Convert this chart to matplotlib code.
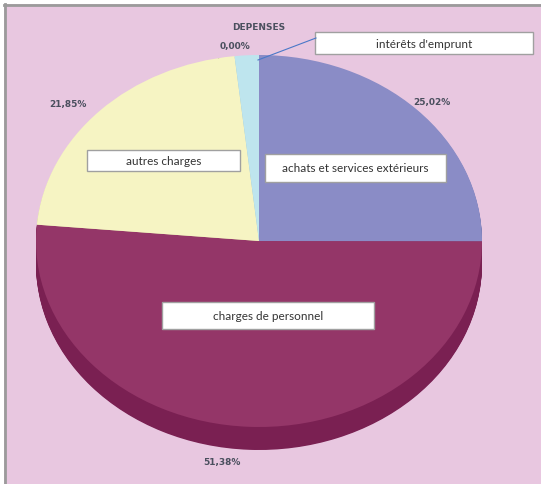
import numpy as np
import matplotlib.pyplot as plt
from matplotlib.patches import Rectangle

# data
categories = ["achats et services extérieurs", "charges de personnel", "autres charges", "", "intérêts d'emprunt"]
values = [25.02, 51.38, 21.85, 1.75, 0.00]
title = "DEPENSES"

top_colors = ['#8A8CC6', '#943668', '#F6F4C3', '#BEE5EE', '#7FA0D8']
side_colors = ['#6D6FA6', '#7A2052', '#CFCC9C', '#9CC4CC', '#6080B8']

W, H = 541, 485
fig = plt.figure(figsize=(W / 100, H / 100), dpi=100)
fig.patch.set_facecolor('white')

# background in pixel coords
bg = fig.add_axes([0, 0, 1, 1])
bg.set_xlim(0, W)
bg.set_ylim(H, 0)
bg.axis('off')
bg.add_patch(Rectangle((4, 5), W, H, facecolor='#E8C7E0', edgecolor='none'))
bg.plot([5, 5], [5, H], color='#9b9b9b', lw=2)
bg.plot([4, W], [6, 6], color='#9b9b9b', lw=2)

# pie axes (ellipse: x 36..482, top surface y 56..428)
cx, cy, rx, ry = 259, 242, 223, 186
pie_ax = fig.add_axes([(cx - rx) / W, (H - cy - ry) / H, 2 * rx / W, 2 * ry / H])
pie_ax.patch.set_alpha(0)

depth = 23 / ry
for off in np.linspace(depth, 0.005, 30):
    pie_ax.pie(values, colors=side_colors, startangle=90, counterclock=False,
               center=(0, -off), radius=1, wedgeprops=dict(linewidth=0))
pie_ax.pie(values, colors=top_colors, startangle=90, counterclock=False,
           center=(0, 0), radius=1, wedgeprops=dict(linewidth=0))
pie_ax.set_aspect('auto')
pie_ax.set_xlim(-1, 1)
pie_ax.set_ylim(-1, 1)
pie_ax.axis('off')

# overlay for labels
ov = fig.add_axes([0, 0, 1, 1])
ov.set_xlim(0, W)
ov.set_ylim(H, 0)
ov.axis('off')
ov.patch.set_alpha(0)

lbl = dict(fontsize=6.5, fontweight='bold', color='#4A4F5E', ha='center', va='center')
ov.text(259, 27, title, **lbl)

# percent labels (the 1,75% one sits behind the pie)
pct_pos = [(432, 103), (222, 463), (68, 104), (232, 62), (235, 46)]
for i, (v, (px, py)) in enumerate(zip(values, pct_pos)):
    target = bg if i == 3 else ov
    target.text(px, py, ("%.2f%%" % v).replace('.', ','), **lbl)

# category boxes
boxes = {
    "intérêts d'emprunt": (315, 33, 218, 22),
    "autres charges": (87, 151, 153, 21),
    "achats et services extérieurs": (265, 155, 181, 28),
    "charges de personnel": (162, 303, 212, 27),
}
for name, (x0, y0, w, h) in boxes.items():
    ov.add_patch(Rectangle((x0, y0), w, h, facecolor='white', edgecolor='#A0A0A0', lw=1, zorder=6))
    ov.text(x0 + w / 2, y0 + h / 2, name, fontsize=8.5, family='Lato', color='#333333',
            ha='center', va='center', zorder=7)

ov.plot([258, 316], [61, 39], color='#4A78C8', lw=0.8, zorder=6)

fig.savefig('out.png', dpi=100)
